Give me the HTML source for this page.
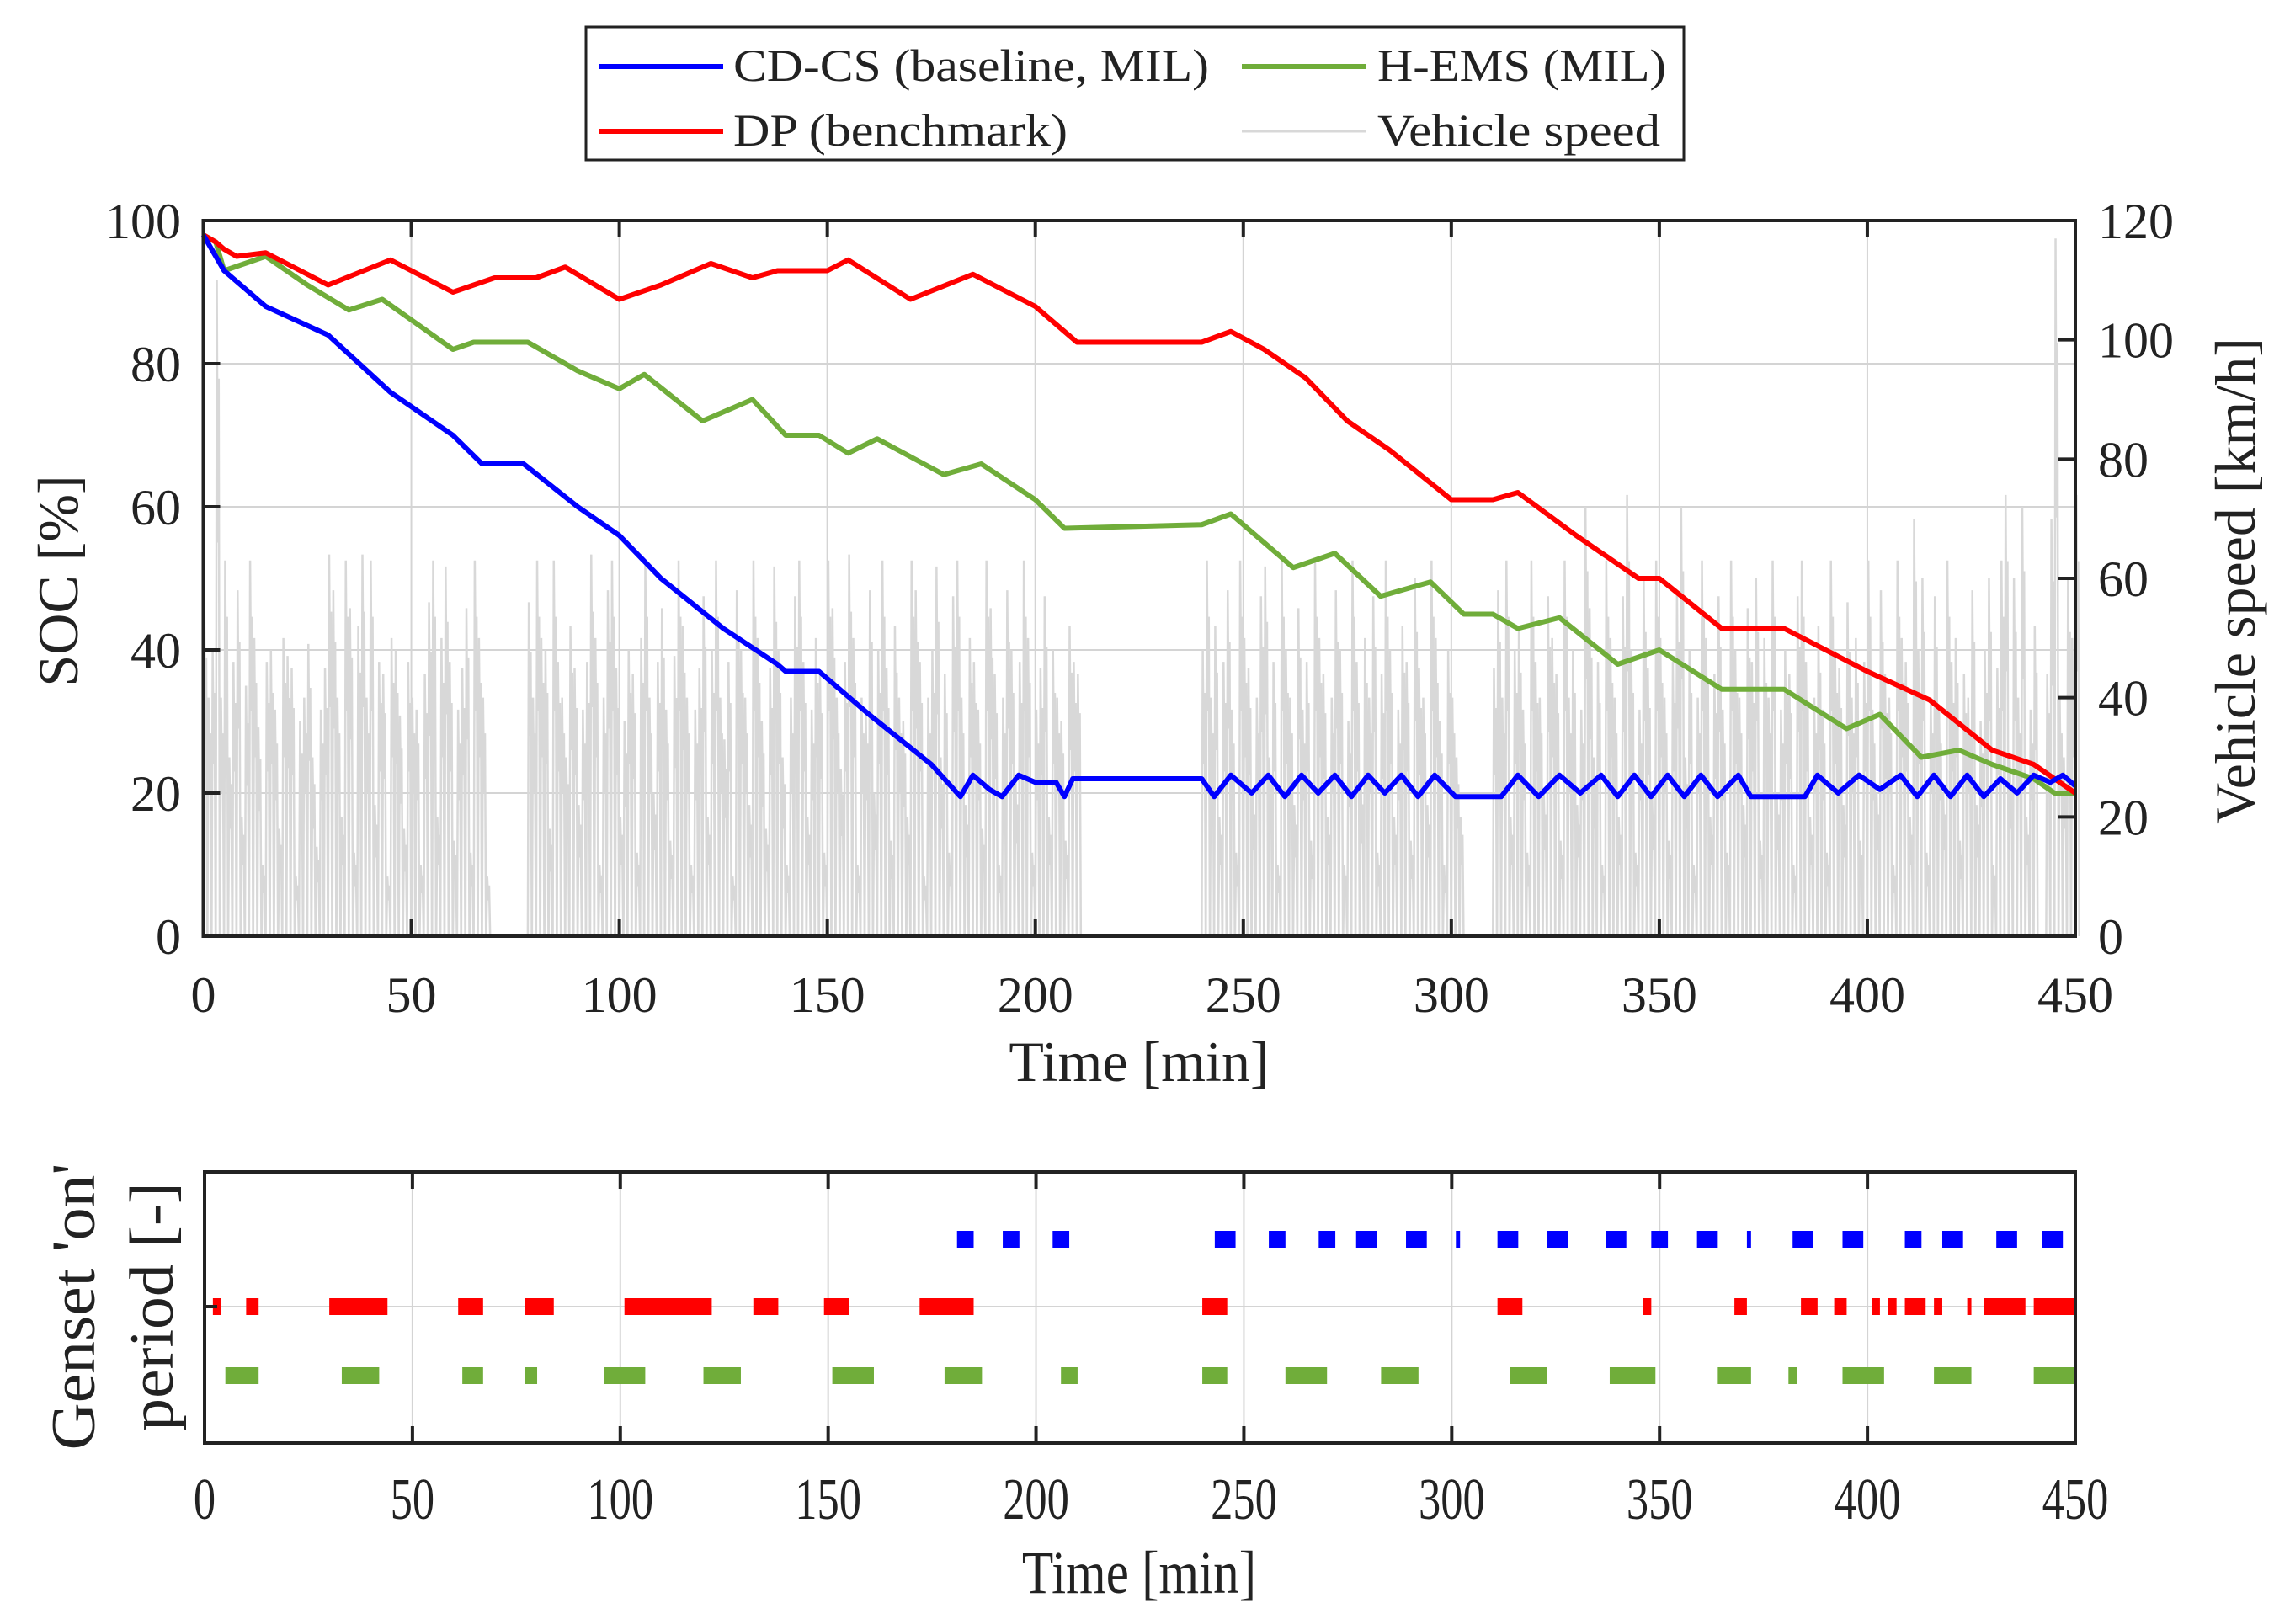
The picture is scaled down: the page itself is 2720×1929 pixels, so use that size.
<!DOCTYPE html>
<html><head><meta charset="utf-8"><style>
html,body{margin:0;padding:0;background:#fff}
svg{display:block}
text{font-family:"Liberation Serif",serif;fill:#222}
</style></head><body>
<svg id="chart" width="2720" height="1929" viewBox="0 0 2720 1929" xmlns="http://www.w3.org/2000/svg">
<g id="legend">
<rect x="696" y="32" width="1304" height="158" fill="#fff" stroke="#222" stroke-width="3"/>
<g><line x1="711" y1="79" x2="859" y2="79" stroke="#0000ff" stroke-width="6"/><text x="871" y="96" font-size="54" textLength="565" lengthAdjust="spacingAndGlyphs">CD-CS (baseline, MIL)</text></g>
<g><line x1="1475" y1="79" x2="1622" y2="79" stroke="#70ad3a" stroke-width="6"/><text x="1636" y="96" font-size="54" textLength="343" lengthAdjust="spacingAndGlyphs">H-EMS (MIL)</text></g>
<g><line x1="711" y1="156" x2="859" y2="156" stroke="#ff0000" stroke-width="6"/><text x="871" y="173" font-size="54" textLength="397" lengthAdjust="spacingAndGlyphs">DP (benchmark)</text></g>
<g><line x1="1475" y1="156" x2="1622" y2="156" stroke="#d8d8d8" stroke-width="3"/><text x="1636" y="173" font-size="54" textLength="336" lengthAdjust="spacingAndGlyphs">Vehicle speed</text></g>
</g>
<g id="main"></g>
<g id="bottom"></g>
</svg>
<script>
const NS="http://www.w3.org/2000/svg";
// ---- data ----
const dpTime=[0,3,5,8,15,20,30,45,60,70,80,87,100,110,122,132,138,150,155,170,185,200,210,240,247,255,265,275,285,300,310,316,330,345,350,365,380,400,415,430,440,445,450];
const dpSoc=[98,97,96,95,95.5,94,91,94.5,90,92,92,93.5,89,91,94,92,93,93,94.5,89,92.5,88,83,83,84.5,82,78,72,68,61,61,62,56,50,50,43,43,37,33,26,24,22,20];
const hemsTime=[0,3,5,15,25,35,43,60,65,78,90,100,106,120,132,140,148,155,162,178,187,200,207,240,247,262,272,283,295,303,310,316,326,340,350,365,380,395,403,413,422,430,440,445,450];
const hemsSoc=[98,97,93,95,91,87.5,89,82,83,83,79,76.5,78.5,72,75,70,70,67.5,69.5,64.5,66,61,57,57.5,59,51.5,53.5,47.5,49.5,45,45,43,44.5,38,40,34.5,34.5,29,31,25,26,24,22,20,20];
const cdTime=[0,5,15,30,45,60,67,77,90,100,110,125,138,140,148,160,175,182,185,189,192,196,200,205,207,209,240,243,247,252,256,260,264,268,272,276,280,284,288,292,296,301,312,316,321,326,331,336,340,344,348,352,356,360,364,369,372,385,388,393,398,403,408,412,416,420,424,428,432,436,440,444,447,450];
const cdSoc=[98,93,88,84,76,70,66,66,60,56,50,43,38,37,37,31,24,19.5,22.5,20.5,19.5,22.5,21.5,21.5,19.5,22,22,19.5,22.5,20,22.5,19.5,22.5,20,22.5,19.5,22.5,20,22.5,19.5,22.5,19.5,19.5,22.5,19.5,22.5,20,22.5,19.5,22.5,19.5,22.5,19.5,22.5,19.5,22.5,19.5,19.5,22.5,20,22.5,20.5,22.5,19.5,22.5,19.5,22.5,19.5,22,20,22.5,21.5,22.5,21];
const speedStart=[0,78,240,310,443];
const speedVals=[
[55,40,48,110,40,63,30,46,58,20,42,63,50,35,12,46,48,38,18,50,47,45,10,36,40,49,30,15,38,45,64,58,40,20,63,55,14,52,64,40,63,22,46,44,10,50,48,37,18,46,40,38,12,44,56,63,20,50,62,46,16,38,45,55,14,63,50,40,10],
[56,40,63,50,48,18,63,46,40,30,52,45,22,38,46,64,50,12,40,58,63,45,20,36,48,44,14,50,63,40,24,46,55,38,16,47,63,52,40,12,38,45,57,20,48,63,40,33,46,10,58,48,40,22,63,50,36,18,45,62,48,30,12,40,57,63,46,20,38,50,44,14,63,55,40,28,46,64,50,12,40,38,58,24,48,63,45,16,52,40,36,20,63,58,46,10,40,48,62,30,44,14,57,63,40,22,50,46,38,18,63,55,44,12,40,58,48,26,46,63,50,14,38,45,57,20,48,40,36,16,52,46,44],
[48,63,40,52,20,46,58,38,14,63,50,45,24,40,57,62,30,46,12,63,48,40,22,55,38,46,16,63,50,44,20,40,58,48,12,36,63,46,26,50,40,57,14,44,63,48,20,38,52,46,16,60,45,40,22,63,50,36,12,48,40,30,20],
[45,58,40,63,20,48,52,38,14,63,46,40,24,57,50,44,16,63,40,48,22,38,72,55,30,46,12,63,50,40,20,57,74,48,14,38,60,45,24,63,50,40,16,46,58,72,30,48,12,40,63,50,20,44,57,38,14,63,48,40,22,55,46,60,16,50,40,63,24,38,48,44,12,57,63,46,20,40,52,38,14,63,48,45,22,56,40,50,16,46,63,38,24,58,44,40,12,63,50,46,20,70,48,60,14,40,57,38,24,63,46,50,16,44,40,58,22,36,48,60,12,45,63,74,30,60,40,72,20,38,52],
[44,70,117,40,30,60,50,74]];
const blueOn=[[181,185],[192,196],[204,208],[243,248],[256,260],[268,272],[277,282],[289,294],[301,302],[311,316],[323,328],[337,342],[348,352],[359,364],[371,372],[382,387],[394,399],[409,413],[418,423],[431,436],[442,447]];
const redOn=[[2,4],[10,13],[30,44],[61,67],[77,84],[101,122],[132,138],[149,155],[172,185],[240,246],[311,317],[346,348],[368,371],[384,388],[392,395],[401,403],[405,407],[409,414],[416,418],[424,425],[428,438],[440,450]];
const greenOn=[[5,13],[33,42],[62,67],[77,80],[96,106],[120,129],[151,161],[178,187],[206,210],[240,246],[260,270],[283,292],[314,323],[338,349],[364,372],[381,383],[394,404],[416,425],[440,450]];
const xTicks=[0,50,100,150,200,250,300,350,400,450];
const socTicks=[0,20,40,60,80,100];
const spdTicks=[0,20,40,60,80,100,120];

// ---- axes ----
const X0=241.5,X1=2465,Y0=262,Y1=1112;
const xs=t=>X0+(X1-X0)*t/450;
const ys=v=>Y1-(Y1-Y0)*v/100;
const ysp=v=>Y1-(Y1-Y0)*v/120;
const BY0=1392,BY1=1714;
function el(tag,attrs,parent){const e=document.createElementNS(NS,tag);for(const k in attrs)e.setAttribute(k,attrs[k]);parent.appendChild(e);return e;}
const main=document.getElementById('main');
const bottom=document.getElementById('bottom');

// grid
xTicks.forEach(t=>{const g=el('line',{x1:xs(t),x2:xs(t),y1:Y0,y2:Y1,stroke:'#d4d4d4','stroke-width':2},main);

});
socTicks.forEach(v=>{const g=el('line',{x1:X0,x2:X1,y1:ys(v),y2:ys(v),stroke:'#d4d4d4','stroke-width':2},main);

});

// speed
let sp='';
speedStart.forEach((s,bi)=>{speedVals[bi].forEach((v,i)=>{const t=s+i;sp+=`${xs(t)},${ysp(0)} ${xs(t+0.25)},${ysp(v)} ${xs(t+0.5)},${ysp(v*0.6)} ${xs(t+0.7)},${ysp(v*0.85)} ${xs(t+0.95)},${ysp(0)} `;});});
const spl=el('polyline',{points:sp,fill:'none',stroke:'#d8d8d8','stroke-width':2.5},main);



function line(ts,vs,color,name){const p=ts.map((t,i)=>xs(t)+','+ys(vs[i])).join(' ');
const l=el('polyline',{points:p,fill:'none',stroke:color,'stroke-width':6,'stroke-linejoin':'round'},main);

}
line(hemsTime,hemsSoc,'#70ad3a','hems-soc-line');
line(dpTime,dpSoc,'#ff0000','dp-soc-line');
line(cdTime,cdSoc,'#0000ff','cdcs-soc-line');

// frame
const fr=el('rect',{x:X0,y:Y0,width:X1-X0,height:Y1-Y0,fill:'none',stroke:'#222','stroke-width':4},main);


xTicks.forEach(t=>{el('line',{x1:xs(t),x2:xs(t),y1:Y1,y2:Y1-20,stroke:'#222','stroke-width':4},main);el('line',{x1:xs(t),x2:xs(t),y1:Y0,y2:Y0+20,stroke:'#222','stroke-width':4},main);
const tx=el('text',{x:xs(t),y:1202,'font-size':60,'text-anchor':'middle'},main);tx.textContent=t;

});
socTicks.forEach(v=>{el('line',{x1:X0,x2:X0+20,y1:ys(v),y2:ys(v),stroke:'#222','stroke-width':4},main);
const tx=el('text',{x:215,y:ys(v)+21,'font-size':60,'text-anchor':'end'},main);tx.textContent=v;

});
spdTicks.forEach(v=>{el('line',{x1:X1,x2:X1-20,y1:ysp(v),y2:ysp(v),stroke:'#222','stroke-width':4},main);
const tx=el('text',{x:2492,y:ysp(v)+21,'font-size':60,'text-anchor':'start'},main);tx.textContent=v;

});
let t1=el('text',{x:1353,y:1284,'font-size':68,'text-anchor':'middle'},main);t1.textContent='Time [min]';


let t2=el('text',{x:0,y:0,'font-size':68,'text-anchor':'middle',transform:'translate(92,690) rotate(-90)'},main);t2.textContent='SOC [%]';


let t3=el('text',{x:0,y:0,'font-size':68,'text-anchor':'middle',transform:'translate(2678,690) rotate(-90)'},main);t3.textContent='Vehicle speed [km/h]';



// bottom plot
const bx=t=>243+(X1-243)*t/450;
xTicks.forEach(t=>{const g=el('line',{x1:bx(t),x2:bx(t),y1:BY0,y2:BY1,stroke:'#d4d4d4','stroke-width':2},bottom);

});
el('line',{x1:243,x2:X1,y1:1552,y2:1552,stroke:'#d4d4d4','stroke-width':2},bottom);
function bars(arr,y,color,name){arr.forEach(r=>{const b=el('rect',{x:bx(r[0]),y:y-10,width:Math.max(bx(r[1])-bx(r[0]),3),height:20,fill:color},bottom);

});}
bars(blueOn,1472,'#0000ff','cdcs-genset-bar');
bars(redOn,1552,'#ff0000','dp-genset-bar');
bars(greenOn,1634,'#70ad3a','hems-genset-bar');
const bfr=el('rect',{x:243,y:BY0,width:X1-243,height:BY1-BY0,fill:'none',stroke:'#222','stroke-width':4},bottom);


el('line',{x1:243,x2:258,y1:1552,y2:1552,stroke:'#222','stroke-width':4},bottom);
xTicks.forEach(t=>{el('line',{x1:bx(t),x2:bx(t),y1:BY1,y2:BY1-20,stroke:'#222','stroke-width':4},bottom);el('line',{x1:bx(t),x2:bx(t),y1:BY0,y2:BY0+20,stroke:'#222','stroke-width':4},bottom);
const tx=el('text',{x:0,y:0,'font-size':70,'text-anchor':'middle',transform:`translate(${bx(t)},1804) scale(0.75,1)`},bottom);tx.textContent=t;

});
let b1=el('text',{x:0,y:0,'font-size':72,'text-anchor':'middle',transform:'translate(1353,1892) scale(0.85,1)'},bottom);b1.textContent='Time [min]';


let b2=el('text',{x:0,y:0,'font-size':74,'text-anchor':'middle',transform:'translate(112,1552) rotate(-90) scale(1.05,1)'},bottom);b2.textContent="Genset 'on'";


let b3=el('text',{x:0,y:0,'font-size':74,'text-anchor':'middle',transform:'translate(205,1552) rotate(-90) scale(1.05,1)'},bottom);b3.textContent='period [-]';


</script>
</body></html>
